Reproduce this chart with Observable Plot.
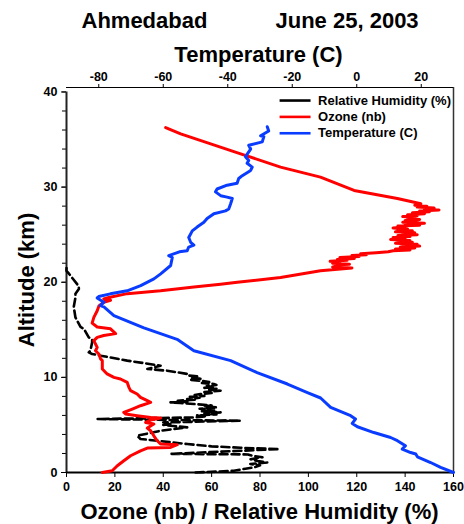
<!DOCTYPE html>
<html><head><meta charset="utf-8">
<script src="https://cdn.jsdelivr.net/npm/d3@7"></script>
<script src="https://cdn.jsdelivr.net/npm/@observablehq/plot@0.6"></script>
<style>html,body{margin:0;padding:0;background:#fff;}</style>
</head><body><div id="chart"></div>
<script>
// ---- data (altitude km ascending) ----
const tempAlt = [0,0.53,1.05,1.65,1.94,2.1,2.46,2.81,3.34,3.68,4.2,4.81,5.16,5.62,5.97,6.84,7.83,8.4,9.3,10.5,11.76,12.8,14.0,15.2,16.5,17.4,17.55,17.9,18.35,18.5,18.78,19.1,19.65,20.35,20.88,21.76,22.6,22.8,23.2,23.3,23.7,23.9,24.2,24.7,25.4,25.8,26.3,26.7,27.2,27.5,27.7,28.25,28.8,28.95,29.1,29.5,29.8,30.2,30.4,30.9,31.2,31.75,32.1,32.5,32.8,33.2,34.0,34.4,34.75,35.3,35.4,35.9,36.35];
const tempC   = [30,26,22.9,18.8,18.3,16.7,14.1,15.1,12.6,10.5,5.3,0.2,-1.4,-0.4,-1.9,-8.1,-11.2,-15.3,-21.5,-30.9,-39.1,-50.5,-55.7,-66,-75.3,-78.4,-79.5,-78.4,-80.5,-80,-76.4,-71.2,-67,-62.9,-60.8,-57.7,-57.2,-58.3,-55,-52.6,-52.1,-50.5,-51.5,-52.1,-51,-49.5,-47.4,-46.4,-44.3,-40.7,-39.7,-39.1,-38.6,-40.2,-42.2,-43.8,-43.3,-40.2,-37.1,-36.6,-35.5,-32.9,-32.4,-34,-33.5,-34.5,-32.9,-33.5,-29.3,-28.8,-29.8,-27.3,-27.75];

const ozoneAlt = [0,0.18,0.71,1.23,1.76,2.28,2.57,2.63,2.92,2.99,3.34,3.86,4.39,4.67,5.09,5.26,5.51,5.72,5.79,5.97,6.15,6.32,6.67,7.02,7.37,7.55,7.9,8.25,8.6,8.95,9.47,9.83,10.0,10.36,10.88,11.76,11.94,12.46,12.8,13.16,13.86,14.2,14.4,14.6,15.1,15.3,15.7,16.3,17.0,17.5,17.9,18.1,18.25,18.4,18.8,19.1,19.5,19.8,20.0,20.5,21.2,21.5,21.6,21.7,21.8,21.9,22.0,22.1,22.2,22.3,22.4,22.5,22.6,22.7,22.8,22.9,23.0,23.1,23.2,23.3,23.4,23.5,23.6,23.7,23.8,23.9,24.0,24.1,24.2,24.3,24.4,24.5,24.6,24.7,24.8,24.9,25.0,25.1,25.2,25.3,25.4,25.5,25.6,25.7,25.8,25.9,26.0,26.1,26.2,26.3,26.4,26.5,26.6,26.7,26.8,26.9,27.0,27.1,27.2,27.3,27.4,27.5,27.6,27.7,27.8,27.9,28.0,28.1,28.25,28.8,29.65,31.05,32.1,33.5,35.6,36.25];
const ozoneNb  = [14.8,18.9,21.0,23.7,26.5,30.6,33.4,43.0,45.8,38.9,37.5,36.1,34.8,33.4,36.1,32.7,34.8,38.9,34.8,29.2,24.4,23.7,27.2,30.6,34.8,33.4,30.6,29.2,26.5,25.8,25.1,22.3,19.6,16.8,14.8,14.8,14.1,13.4,12.0,12.7,11.3,12.7,15.4,20.3,18.2,12.7,10.6,11.3,12.7,13.4,15.4,18.2,15.4,17.5,25.1,38.9,52.7,63.7,70.6,88.5,105,118,110,114,111,117,110,113,109,116,112,119,113,121,118,124,121.6,128,133,135,142,136,144,138,146,139,145,136,143,137,142,134,140,135,142,137,145,139,144,136,143,137,141,135,140,137,146,140,148,139,145,140,146,141,144,139,145,141,148,143,150,146,154,148,152,145,149,144,146.5,136.8,118.9,105,88.5,72,47.2,41];

const rhAlt = [0,0.18,0.4,0.53,0.75,0.9,1.05,1.2,1.4,1.6,1.75,1.9,1.96,2.46,2.6,2.75,2.99,3.34,3.52,3.86,4.39,4.74,5.0,5.09,5.26,5.44,5.62,5.79,5.9,6.0,6.1,6.2,6.32,6.45,6.55,6.7,6.84,6.95,7.05,7.2,7.3,7.37,7.45,7.55,7.65,7.73,7.85,7.95,8.05,8.15,8.25,8.35,8.45,8.6,8.7,8.8,8.9,9.0,9.1,9.2,9.3,9.4,9.5,9.65,9.75,9.85,9.95,10.1,10.2,10.36,10.7,10.88,11.23,11.76,12.28,12.46,12.63,12.8,13.7,14.0,14.2,15.1,15.3,16.3,17.4,18.4,18.8,19.3,19.5,19.8,20.7,20.9,21.2,21.6];
const rhPct = [53.4,69.2,74,77.5,80,76,83,79,76.1,81,77,75,43,88,72,60,49.9,37.5,30.6,29.2,38.9,49.9,40,43,40,72,12.7,52.7,58,54,62,57,63.7,56,61,55,62.3,57,60,52.7,47,43,50,46,53,49.9,55,51,57,53,55.4,60,57,63.7,59,62,57,61,58,62,60.9,56,59,55.4,51,56,52,54,50,49.9,41.7,33.4,38.9,25.1,14.1,10.6,9.2,9.9,10.6,10.6,9.2,7.2,5.8,3.7,3.0,3.7,3.7,5.1,5.1,4.4,1.6,1.0,0,0];

const xTicks = [0,20,40,60,80,100,120,140,160];
const tempTicks = [-80,-60,-40,-20,0,20];
const yTicks = [0,10,20,30,40];
const yMinorTicks = d3.range(0,41,2);

const seriesNames = ["Relative Humidity (%)","Ozone (nb)","Temperature (C)"];
const seriesColors = ["#000000","#ff0000","#0a3cff"];

// ---- derived tables ----
const toX = t => (t + 90) * 4 / 3;          // temperature -> shared x scale
const fromX = v => String(Math.round(v * 3 / 4 - 90));
const temp = tempAlt.map((a, i) => ({alt: a, v: toX(tempC[i])}));
const ozone = ozoneAlt.map((a, i) => ({alt: a, v: ozoneNb[i]}));
const rh = rhAlt.map((a, i) => ({alt: a, v: rhPct[i]}));
const yTop = 40.47;
const legend = seriesNames.map((name, i) => ({name, color: seriesColors[i], y: 39.1 - i * 1.72}));

const font = "'Liberation Sans', Arial, Helvetica, sans-serif";

const plot = Plot.plot({
  width: 464, height: 524,
  marginTop: 87, marginBottom: 52, marginLeft: 66, marginRight: 11,
  x: {domain: [0, 160]},
  y: {domain: [0, yTop]},
  style: {fontFamily: font, fontSize: "12.5px", fontWeight: "bold", color: "#000", background: "#fff"},
  marks: [
    Plot.axisY(yMinorTicks, {tickSize: 4, tickFormat: () => "", label: null}),
    Plot.axisY(yTicks, {tickSize: 5, tickPadding: 4, label: null}),
    Plot.axisX(xTicks, {anchor: "bottom", tickSize: 5, tickPadding: 5, label: null}),
    Plot.axisX(tempTicks.map(toX), {anchor: "top", tickSize: 4, tickPadding: 3, label: null, tickFormat: fromX}),
    Plot.ruleX([0], {y1: 0, y2: 40, stroke: "#222", strokeWidth: 2}),
    Plot.ruleX([160], {stroke: "#333", strokeWidth: 1.5}),
    Plot.ruleY([0], {stroke: "#000", strokeWidth: 2}),
    Plot.ruleY([yTop], {stroke: "#000", strokeWidth: 1}),
    Plot.line(rh, {x: "v", y: "alt", stroke: seriesColors[0], strokeWidth: 2.6, strokeDasharray: "8,4"}),
    Plot.line(ozone, {x: "v", y: "alt", stroke: seriesColors[1], strokeWidth: 3}),
    Plot.line(temp, {x: "v", y: "alt", stroke: seriesColors[2], strokeWidth: 3}),
    // legend
    Plot.link(legend, {x1: 88.1, x2: 100.9, y1: "y", y2: "y", stroke: "color", strokeWidth: 2.6,
      strokeDasharray: (d) => d.name.startsWith("Relative") ? "8,4" : null}),
    Plot.text(legend, {x: 104, y: "y", text: "name", textAnchor: "start", lineAnchor: "middle", fontSize: 13, fontWeight: "bold", fill: "#000"}),
    // titles
    Plot.text(["Ahmedabad"], {frameAnchor: "top-left", dx: 15, dy: -60, textAnchor: "start", lineAnchor: "bottom", fontSize: 22, fontWeight: "bold"}),
    Plot.text(["June 25, 2003"], {frameAnchor: "top-left", dx: 209, dy: -60, textAnchor: "start", lineAnchor: "bottom", fontSize: 22, fontWeight: "bold"}),
    Plot.text(["Temperature (C)"], {frameAnchor: "top", dx: -1.5, dy: -25.5, textAnchor: "middle", lineAnchor: "bottom", fontSize: 22, fontWeight: "bold"}),
    Plot.text(["Ozone (nb) / Relative Humidity (%)"], {frameAnchor: "bottom", dx: -0.5, dy: 46, textAnchor: "middle", lineAnchor: "bottom", fontSize: 22, fontWeight: "bold"}),
    Plot.text(["Altitude (km)"], {frameAnchor: "left", dx: -33, rotate: -90, textAnchor: "middle", lineAnchor: "bottom", fontSize: 22, fontWeight: "bold"})
  ]
});
document.getElementById("chart").append(plot);
</script>
</body></html>
